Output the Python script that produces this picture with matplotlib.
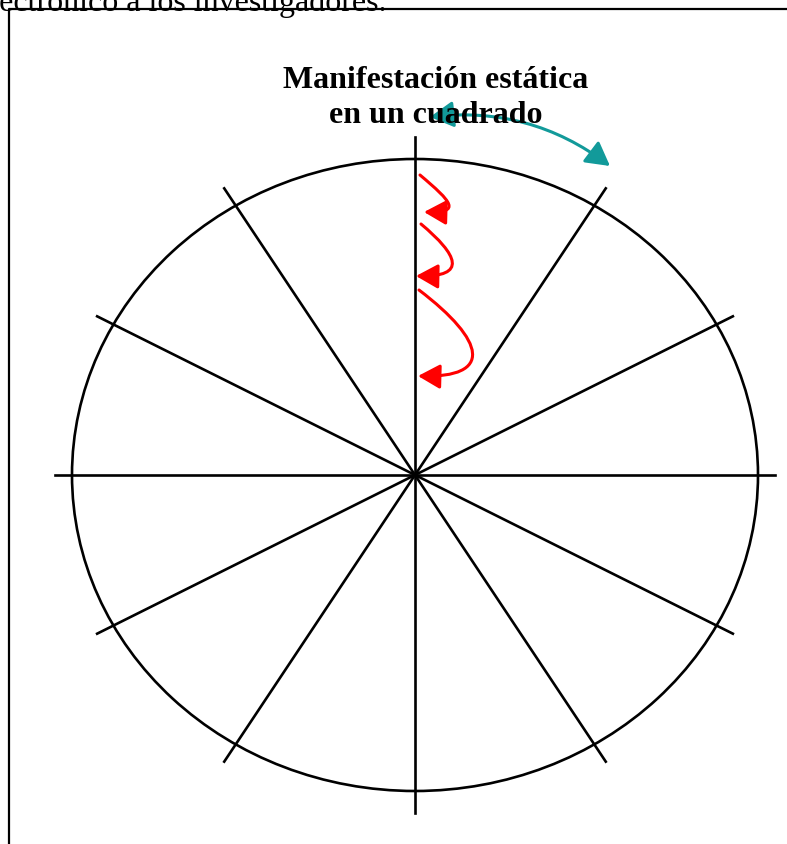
import numpy as np
import matplotlib
matplotlib.use("Agg")
import matplotlib.pyplot as plt
from matplotlib.patches import Ellipse, FancyArrowPatch, ArrowStyle
from matplotlib.path import Path

# ---- data (pixel-space diagram) ----
W, H = 787, 845
center = (415, 476)
ellipse_size = (686, 632)          # width, height
spoke_radii = (360, 338)           # semi-axes of spoke endpoints
spoke_params_deg = [0, 28, 58, 90, 122, 152]
title_lines = ["Manifestación estática", "en un cuadrado"]
title_baselines = [88, 123]
top_text = "electrónico a los investigadores."

# red curved arrows: start, ctrl1, ctrl2, tip
red_arrows = [
    [(420, 176), (452, 203), (462, 214), (424, 213)],
    [(421, 225), (458, 256), (468, 278), (416, 277)],
    [(419, 291), (486, 342), (494, 379), (418, 377)],
]
teal_arrow = [(430, 118), (610, 167)]

fig = plt.figure(figsize=(W / 100, H / 100), dpi=100)
ax = fig.add_axes([0, 0, 1, 1])
ax.set_xlim(0, W)
ax.set_ylim(H, 0)
ax.axis("off")

# frame (open at right and bottom)
ax.plot([8.5, 8.5, W + 5], [H + 5, 10, 10], color="black", lw=1.6, solid_capstyle="butt")

# top cut-off text
ax.text(387, 10.5, top_text, ha="right", va="baseline", fontsize=23,
        family="Liberation Serif", color="black")

# ellipse
ax.add_patch(Ellipse(center, ellipse_size[0], ellipse_size[1], fill=False,
                     lw=1.9, color="black"))

# spokes
cx, cy = center
for t in spoke_params_deg:
    tr = np.deg2rad(t)
    dx = spoke_radii[0] * np.cos(tr)
    dy = spoke_radii[1] * np.sin(tr)
    ax.plot([cx - dx, cx + dx], [cy + dy, cy - dy], color="black", lw=1.9)

# title
for line, yb in zip(title_lines, title_baselines):
    ax.text(436, yb, line, ha="center", va="baseline", fontsize=23,
            fontweight="bold", family="Liberation Serif")

# red arrows
for pts in red_arrows:
    path = Path(pts, [Path.MOVETO, Path.CURVE4, Path.CURVE4, Path.CURVE4])
    arr = FancyArrowPatch(path=path,
                          arrowstyle=ArrowStyle("-|>", head_length=0.9, head_width=0.5),
                          mutation_scale=15, color="#ff0000", lw=2.2)
    ax.add_patch(arr)

# teal double arrow
arr = FancyArrowPatch(teal_arrow[0], teal_arrow[1],
                      connectionstyle="arc3,rad=-0.2",
                      arrowstyle=ArrowStyle("<|-|>", head_length=0.9, head_width=0.5),
                      mutation_scale=16, color="#129a9a", lw=2.2,
                      shrinkA=0, shrinkB=0)
ax.add_patch(arr)

fig.savefig("out.png", dpi=100)
